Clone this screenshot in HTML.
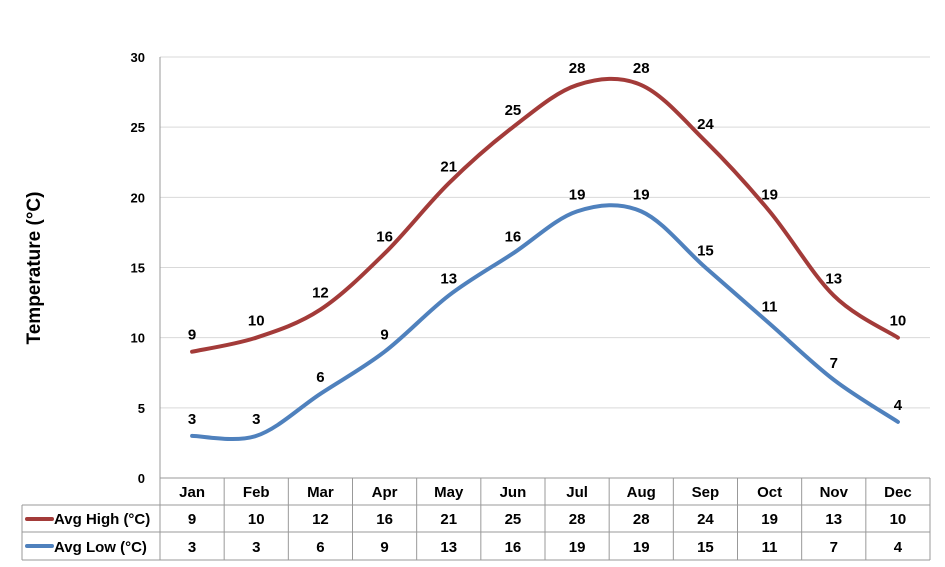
<!DOCTYPE html>
<html><head><meta charset="utf-8"><style>
body{margin:0;background:#fff;}
svg{display:block;font-family:"Liberation Sans",Arial,sans-serif;}
</style></head><body>
<svg id="chart" width="945" height="567"></svg>
<script>
const months=["Jan","Feb","Mar","Apr","May","Jun","Jul","Aug","Sep","Oct","Nov","Dec"];
const highs=[9,10,12,16,21,25,28,28,24,19,13,10];
const lows=[3,3,6,9,13,16,19,19,15,11,7,4];
const yTicks=[0,5,10,15,20,25,30];
const seriesNames=["Avg High (°C)","Avg Low (°C)"];
const colors=["#a33b39","#4f81bd"];

const svg=document.getElementById('chart');
const NS='http://www.w3.org/2000/svg';
const L=160,R=930,T=57,B=478,ymax=30;
const cw=(R-L)/months.length;
const x=i=>L+cw*(i+0.5);
const y=v=>B-(v/ymax)*(B-T);
function mk(t,a,txt){const e=document.createElementNS(NS,t);for(const k in a)e.setAttribute(k,a[k]);if(txt!==undefined)e.textContent=txt;svg.appendChild(e);return e;}

yTicks.forEach(v=>{
  if(v>0){const g=mk('line',{x1:L,x2:R,y1:y(v),y2:y(v),stroke:'#d9d9d9','stroke-width':1});
  
  }
  const t=mk('text',{x:145,y:y(v)+5,'text-anchor':'end','font-size':13,'font-weight':'bold'},v);
  
  
});
const yt=mk('text',{x:40,y:268,'text-anchor':'middle','font-size':19,'font-weight':'bold',transform:'rotate(-90 40 268)'},'Temperature (°C)');



// axis & table lines
const ax=mk('line',{x1:L,x2:L,y1:T,y2:B,stroke:'#999'});


const tl=(x1,y1,x2,y2)=>{const e=mk('line',{x1,y1,x2,y2,stroke:'#999'});};
tl(L,B,R,B);tl(22,505,R,505);tl(22,532,R,532);tl(22,560,R,560);tl(22,505,22,560);
for(let i=0;i<=months.length;i++)tl(L+cw*i,B,L+cw*i,560);

function path(vals){
  const p=vals.map((v,i)=>[x(i),y(v)]);
  let d='M'+p[0][0]+','+p[0][1];
  for(let i=0;i<p.length-1;i++){
    const p0=p[Math.max(i-1,0)],p1=p[i],p2=p[i+1],p3=p[Math.min(i+2,p.length-1)];
    const k=1/6;
    d+=' C'+(p1[0]+(p2[0]-p0[0])*k)+','+(p1[1]+(p2[1]-p0[1])*k)+' '+(p2[0]-(p3[0]-p1[0])*k)+','+(p2[1]-(p3[1]-p1[1])*k)+' '+p2[0]+','+p2[1];
  }
  return d;
}
[highs,lows].forEach((vals,s)=>{
  const ln=mk('path',{d:path(vals),fill:'none',stroke:colors[s],'stroke-width':4,'stroke-linecap':'round'});
  
  
  vals.forEach((v,i)=>{
    const t=mk('text',{x:x(i),y:y(v)-12,'text-anchor':'middle','font-size':15,'font-weight':'bold'},v);
    
    
    const c=mk('text',{x:x(i),y:(s?552:524),'text-anchor':'middle','font-size':15,'font-weight':'bold'},v);
    
    
  });
  const lk=mk('line',{x1:27,x2:52,y1:s?546:519,y2:s?546:519,stroke:colors[s],'stroke-width':4,'stroke-linecap':'round'});
  
  
  const lt=mk('text',{x:54,y:s?552:524,'font-size':15,'font-weight':'bold'},seriesNames[s]);
  
  
});
months.forEach((m,i)=>{
  const t=mk('text',{x:x(i),y:497,'text-anchor':'middle','font-size':15,'font-weight':'bold'},m);
  
  
});
</script>
</body></html>
